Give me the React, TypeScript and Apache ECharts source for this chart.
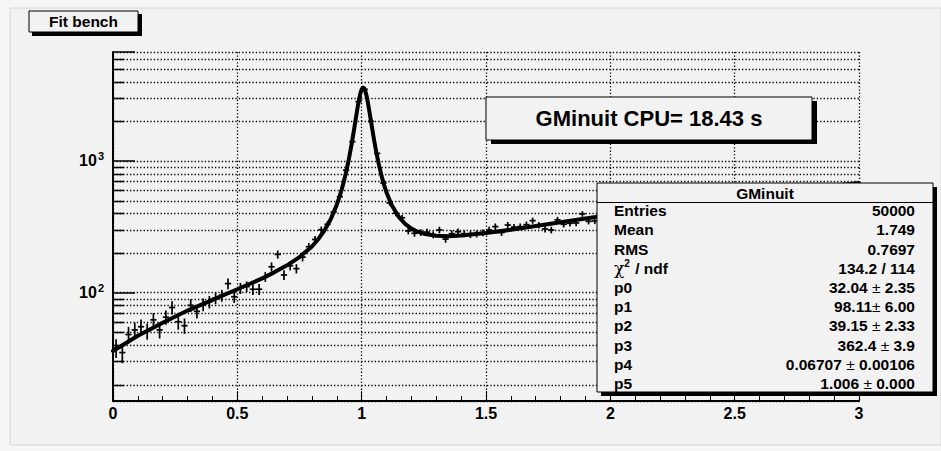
import React, { useEffect, useRef } from 'react';
import * as echarts from 'echarts';

// ---------- data ----------
const histLow = 0;
const histHigh = 3;
const binCounts = [
  38, 35, 48, 52, 55, 51, 62, 52, 65, 77,
  60, 56, 80, 72, 81, 85, 91, 95, 117, 93,
  108, 111, 106, 106, 132, 157, 195, 136, 160, 152,
  186, 223, 253, 300, 330, 410, 535, 850, 1400, 2820,
  3500, 2000, 1140, 680, 480, 400, 370, 294, 282, 286,
  288, 275, 299, 255, 280, 290, 280, 276, 279, 285,
  299, 317, 286, 326, 314, 317, 328, 352, 325, 304,
  299, 357, 330, 336, 338, 396, 348, 350, 372, 395,
  381, 402, 389, 410, 398, 425, 412, 420, 448, 436,
  462, 451, 470, 458, 482, 476, 494, 487, 520, 505,
  528, 519, 541, 535, 549, 566, 552, 578, 580, 596,
  585, 612, 610, 628, 622, 640, 645, 662, 654, 668,
];

const fitX = [
  0, 0.1, 0.2, 0.3, 0.4, 0.5, 0.6, 0.65, 0.7, 0.75,
  0.8, 0.825, 0.85, 0.875, 0.9, 0.91, 0.92, 0.93, 0.94, 0.945,
  0.95, 0.96, 0.965, 0.97, 0.975, 0.98, 0.985, 0.99, 0.995, 1.0,
  1.006, 1.01, 1.015, 1.02, 1.025, 1.03, 1.035, 1.04, 1.045, 1.05,
  1.055, 1.06, 1.07, 1.08, 1.09, 1.1, 1.12, 1.15, 1.175, 1.2,
  1.225, 1.25, 1.3, 1.35, 1.4, 1.5, 1.6, 1.7, 1.8, 1.9,
  2.0, 2.25, 2.5, 2.75, 3.0,
];
const fitY = [
  36, 47, 59, 73, 88, 106, 128, 143, 161, 186,
  224, 254, 296, 359, 465, 528, 609, 718, 865, 958,
  1068, 1356, 1542, 1762, 2020, 2314, 2638, 2970, 3274, 3502,
  3610, 3563, 3381, 3102, 2778, 2449, 2144, 1873, 1640, 1442,
  1276, 1137, 923, 770, 658, 576, 465, 374, 332, 306,
  290, 280, 270, 268, 271, 283, 300, 320, 342, 365,
  389, 454, 524, 599, 680,
];

const xTickLabels = ['0', '0.5', '1', '1.5', '2', '2.5', '3'];
const yMajorValues = [100, 1000];
const yMajorExponents = ['2', '3'];
const yMinorValues = [20, 30, 40, 50, 60, 70, 80, 90, 200, 300, 400, 500, 600, 700, 800, 900, 2000, 3000, 4000, 5000, 6000];
const yMin = 15;
const yMax = 6726;

const titleText = 'Fit bench';
const cpuText = 'GMinuit CPU= 18.43 s';
const statsTitle = 'GMinuit';
const statLabels = ['Entries', 'Mean', 'RMS', 'χ2 / ndf', 'p0', 'p1', 'p2', 'p3', 'p4', 'p5'];
const statValues = ['50000', '1.749', '0.7697', '134.2 / 114', '32.04 ± 2.35', '98.11± 6.00', '39.15 ± 2.33', '362.4 ± 3.9', '0.06707 ± 0.00106', '1.006 ± 0.000'];

// ---------- styling ----------
const FONT = "'Liberation Sans', Arial, Helvetica, sans-serif";
const BG = '#f2f2f2';
const DOT = [1.3, 2.1];

export default function App() {
  const ref = useRef<HTMLDivElement>(null);

  useEffect(() => {
    if (!ref.current) return;
    const chart = echarts.init(ref.current, undefined, { renderer: 'svg' });
    const binW = (histHigh - histLow) / binCounts.length;
    const histData = binCounts.map((c, i) => [histLow + (i + 0.5) * binW, c, Math.sqrt(c)]);
    const fitData = fitX.map((x, i) => [x, fitY[i]]);

    const statsX = 597, statsY = 183, statsW = 336, statsH = 209;
    const rowY0 = 210.7, rowStep = 19.2;

    const statTexts: any[] = [];
    statLabels.forEach((lab, k) => {
      const y = rowY0 + rowStep * k;
      const isChi = lab.startsWith('χ');
      statTexts.push({
        type: 'text',
        z: 102,
        style: {
          x: 614, y,
          text: isChi ? '{g|χ}{s|2}' + lab.slice(2) : lab,
          font: `bold 15.5px ${FONT}`,
          fill: '#000',
          verticalAlign: 'middle',
          align: 'left',
          rich: {
            g: { fontSize: 17, fontFamily: "'DejaVu Serif', serif", fontWeight: 'normal', fill: '#000' },
            s: { fontSize: 10, fontFamily: FONT, fontWeight: 'bold', padding: [0, 1, 9, 0], fill: '#000' },
          },
        },
      });
      const val = statValues[k];
      statTexts.push({
        type: 'text',
        z: 102,
        style: {
          x: 915, y,
          text: val.replace('±', '{pm|±}'),
          font: `bold 15.5px ${FONT}`,
          fill: '#000',
          verticalAlign: 'middle',
          align: 'right',
          rich: {
            pm: { fontSize: 15.5, fontFamily: FONT, fontWeight: 'normal', fill: '#000' },
          },
        },
      });
    });

    const option: any = {
      animation: false,
      backgroundColor: '#f6f6f6',
      grid: {
        left: 113, top: 52, right: 82, bottom: 50,
        show: true, borderColor: '#000', borderWidth: 1, backgroundColor: 'transparent',
      },
      xAxis: {
        type: 'value',
        min: histLow,
        max: histHigh,
        interval: 0.5,
        axisLine: { show: true, onZero: false, lineStyle: { color: '#000', width: 2 } },
        axisTick: { show: true, inside: true, length: 10, lineStyle: { color: '#000', width: 1 } },
        minorTick: { show: true, splitNumber: 5, length: 5, lineStyle: { color: '#000', width: 1 } },
        splitLine: { show: true, lineStyle: { color: '#000', width: 1.3, type: DOT } },
        axisLabel: {
          margin: 4,
          color: '#000',
          fontSize: 16,
          fontWeight: 'bold',
          fontFamily: FONT,
          formatter: (v: number) => {
            const idx = Math.round(v / 0.5);
            return Math.abs(v - idx * 0.5) < 1e-9 ? xTickLabels[idx] ?? '' : '';
          },
        },
      },
      yAxis: {
        type: 'log',
        logBase: 10,
        min: yMin,
        max: yMax,
        axisLine: { show: true, lineStyle: { color: '#000', width: 2 } },
        axisTick: { show: true, inside: true, length: 22, lineStyle: { color: '#000', width: 1.5 } },
        splitLine: { show: true, lineStyle: { color: '#000', width: 1.3, type: DOT } },
        axisLabel: {
          margin: 9,
          color: '#000',
          fontSize: 16,
          fontWeight: 'bold',
          fontFamily: FONT,
          formatter: (v: number) => {
            const idx = yMajorValues.findIndex((m) => Math.abs(m - v) / m < 1e-6);
            return idx >= 0 ? `{b|10}{s|${yMajorExponents[idx]}}` : '';
          },
          rich: {
            b: { fontSize: 16, fontWeight: 'bold', fontFamily: FONT, color: '#000' },
            s: { fontSize: 11, fontWeight: 'bold', fontFamily: FONT, color: '#000', padding: [0, 0, 9, 1] },
          },
        },
      },
      series: [
        {
          type: 'custom',
          name: 'minorGrid',
          silent: true,
          z: 1,
          encode: { x: 0, y: 1 },
          data: yMinorValues.map((v) => [histLow, v]),
          renderItem: (params: any, api: any) => {
            const v = api.value(1);
            const p0 = api.coord([histLow, v]);
            const p1 = api.coord([histHigh, v]);
            const y = Math.round(p0[1]) + 0.5;
            return {
              type: 'group',
              children: [
                { type: 'line', shape: { x1: p0[0], y1: y, x2: p1[0], y2: y }, style: { stroke: '#000', lineWidth: 1.3, lineDash: DOT } },
                { type: 'line', shape: { x1: p0[0], y1: y, x2: p0[0] + 11, y2: y }, style: { stroke: '#000', lineWidth: 1.5 } },
              ],
            };
          },
        },
        {
          type: 'custom',
          name: 'histogram',
          clip: true,
          z: 3,
          encode: { x: 0, y: 1 },
          data: histData,
          renderItem: (params: any, api: any) => {
            const x = api.value(0), y = api.value(1), e = api.value(2);
            const l = api.coord([x - binW / 2, y]);
            const r = api.coord([x + binW / 2, y]);
            const t = api.coord([x, y + e]);
            const b = api.coord([x, Math.max(y - e, 1)]);
            return {
              type: 'group',
              children: [
                { type: 'line', shape: { x1: l[0], y1: l[1], x2: r[0], y2: r[1] }, style: { stroke: '#000', lineWidth: 1.7 } },
                { type: 'line', shape: { x1: t[0], y1: t[1], x2: b[0], y2: b[1] }, style: { stroke: '#000', lineWidth: 1.7 } },
              ],
            };
          },
        },
        {
          type: 'line',
          name: 'fit',
          z: 5,
          showSymbol: false,
          symbol: 'none',
          data: fitData,
          lineStyle: { color: '#000', width: 4, join: 'round', cap: 'round' },
        },
      ],
      graphic: [
        { type: 'rect', z: 0, zlevel: 0, silent: true, shape: { x: 10, y: 8, width: 931, height: 437 }, style: { fill: BG, stroke: '#d4d4d4', lineWidth: 1 } },
        // title box
        { type: 'rect', z: 100, shape: { x: 32, y: 14, width: 110, height: 22 }, style: { fill: '#000' } },
        { type: 'rect', z: 101, shape: { x: 29, y: 11, width: 109, height: 21 }, style: { fill: BG, stroke: '#000', lineWidth: 1 } },
        { type: 'text', z: 102, style: { x: 83.5, y: 21.5, text: titleText, font: `bold 15.5px ${FONT}`, fill: '#000', align: 'center', verticalAlign: 'middle' } },
        // CPU box
        { type: 'rect', z: 100, shape: { x: 491, y: 101, width: 326, height: 43 }, style: { fill: '#000' } },
        { type: 'rect', z: 101, shape: { x: 486, y: 97, width: 326, height: 43 }, style: { fill: BG, stroke: '#000', lineWidth: 1 } },
        { type: 'text', z: 102, style: { x: 649, y: 118, text: cpuText, font: `bold 22px ${FONT}`, fill: '#000', align: 'center', verticalAlign: 'middle' } },
        // stats box
        { type: 'rect', z: 100, shape: { x: statsX + 4, y: statsY + 4, width: statsW, height: statsH }, style: { fill: '#000' } },
        { type: 'rect', z: 101, shape: { x: statsX, y: statsY, width: statsW, height: statsH }, style: { fill: BG, stroke: '#000', lineWidth: 1 } },
        { type: 'line', z: 102, shape: { x1: statsX, y1: 202.5, x2: statsX + statsW, y2: 202.5 }, style: { stroke: '#000', lineWidth: 1 } },
        { type: 'text', z: 102, style: { x: 765, y: 193.5, text: statsTitle, font: `bold 15.5px ${FONT}`, fill: '#000', align: 'center', verticalAlign: 'middle' } },
        ...statTexts,
      ],
    };

    chart.setOption(option);
    return () => chart.dispose();
  }, []);

  return <div ref={ref} style={{ position: 'fixed', left: 0, top: 0, width: 941, height: 451 }} />;
}
